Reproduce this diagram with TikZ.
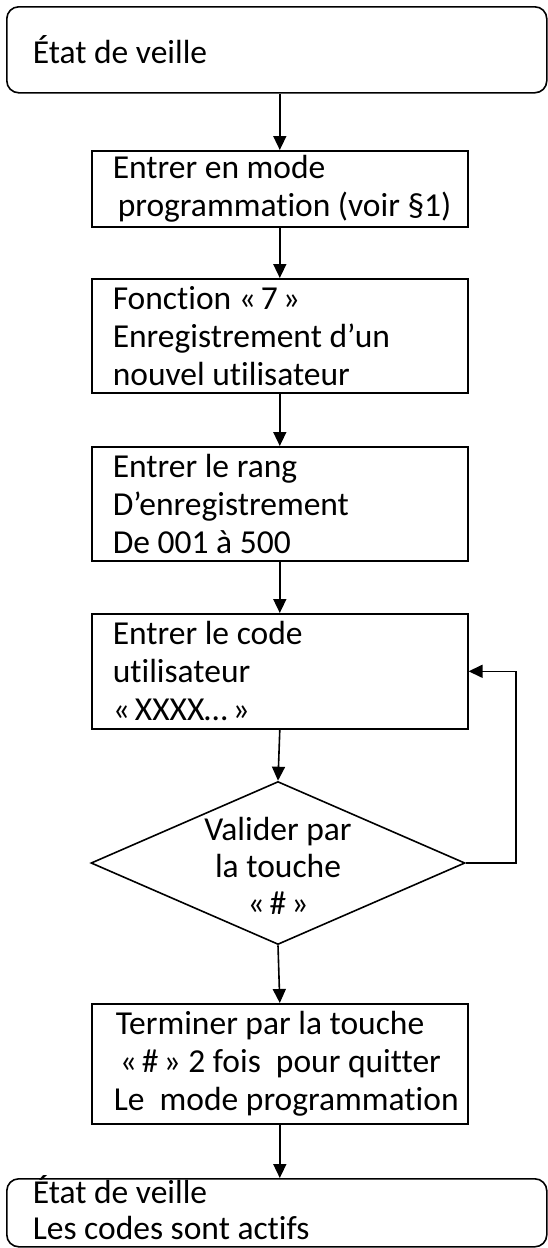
\documentclass[tikz,border=0pt]{standalone}
\usepackage{fontspec}
\setmainfont{Carlito}[Ligatures=NoCommon]
\usetikzlibrary{shapes.geometric,arrows.meta}
\newcommand{\qs}{\hspace{5pt}}
\newcommand{\tline}[1]{\mbox{\spaceskip=0pt\xspaceskip=0pt\relax #1}}
\tikzset{
  lw/.style={line width=1.6pt},
  txt/.style={font=\fontsize{33.5}{38}\selectfont, align=left},
  stepbox/.style={draw, lw, txt, text width=334pt, inner xsep=21pt, inner ysep=0pt, anchor=north west},
  endbox/.style={draw, lw, txt, rounded corners=12pt, text width=488pt, inner xsep=26pt, inner ysep=0pt, anchor=north west},
  arr/.style={lw, -{Triangle[width=13pt,length=14pt]}},
  dec/.style={draw, lw, diamond, minimum width=374pt, minimum height=163pt, inner sep=0pt},
  dtxt/.style={font=\fontsize{33.5}{37}\selectfont, align=center, inner sep=0pt}
}
\begin{document}
\begin{tikzpicture}[x=1pt,y=-1pt]
\useasboundingbox (0,0) rectangle (548,1248);
\node[endbox, minimum height=86pt] (e0) at (6,6) {\tline{État de veille}};
\node[stepbox, minimum height=76pt] (b1) at (91,150) {\tline{Entrer en mode}\\\tline{\hspace*{5pt}programmation (voir §1)}};
\node[stepbox, minimum height=114pt] (b2) at (91,278) {\tline{Fonction «\qs7\qs»}\\\tline{Enregistrement d’un}\\\tline{nouvel utilisateur}};
\node[stepbox, minimum height=114pt] (b3) at (91,446) {\tline{Entrer le rang}\\\tline{D’enregistrement}\\\tline{De 001 à 500}};
\node[stepbox, minimum height=115pt] (b4) at (91,613) {\tline{Entrer le code}\\\tline{utilisateur}\\\tline{«\qs XXXX…\qs»}};
\node[dec] (d) at (278,863) {};
\node[dtxt] (dt) at (278,866) {\tline{Valider par}\\\tline{la touche}\\\tline{«\qs\#\qs»}};
\node[stepbox, minimum height=120pt] (b5) at (91,1003) {\tline{\hspace*{3pt}Terminer par la touche}\\\tline{\hspace*{7pt}«\qs\#\qs» 2 fois\ \ pour quitter}\\\tline{\hspace*{1pt}Le\ \ mode programmation}};
\node[endbox, text height=25pt, text depth=43pt, font=\fontsize{33.5}{36}\selectfont] (e1) at (6,1178) {\tline{État de veille}\\\tline{Les codes sont actifs}};
\draw[arr] (b1.north |- e0.south) -- (b1.north);
\draw[arr] (b1.south) -- (b2.north);
\draw[arr] (b2.south) -- (b3.north);
\draw[arr] (b3.south) -- (b4.north);
\draw[arr] (b4.south) -- (d.north);
\draw[arr] (d.east) -- ++(50,0) |- (b4.east);
\draw[arr] (d.south) -- (b5.north);
\draw[arr] (b5.south) -- (b5.south |- e1.north);
\end{tikzpicture}
\end{document}
